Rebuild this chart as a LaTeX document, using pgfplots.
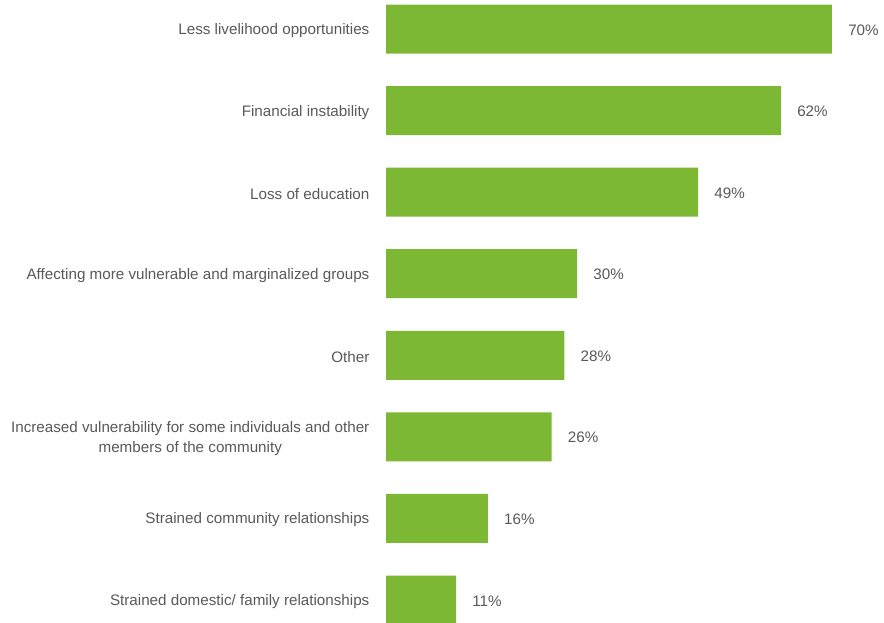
\documentclass[border=0pt]{standalone}
\usepackage{fontspec}
\setmainfont{Liberation Sans}
\usepackage{pgfplots}
\pgfplotsset{compat=1.18}
\definecolor{barg}{HTML}{7DB834}
\definecolor{txt}{HTML}{595959}
\begin{document}
\fontsize{11.4pt}{13.6pt}\selectfont
\begin{tikzpicture}
\useasboundingbox (0pt,0pt) rectangle (663pt,466.5pt);
\begin{axis}[
  at={(289.5pt,16.5pt)}, anchor=south west,
  scale only axis,
  width=334.5pt, height=428.25pt,
  xmin=0, xmax=70,
  ymin=0, ymax=7,
  y dir=reverse,
  clip=false,
  axis line style={draw=none},
  tick style={draw=none},
  xtick=\empty,
  ytick={0,1,2,3,4,5,6,7},
  yticklabels={Less livelihood opportunities,Financial instability,Loss of education,Affecting more vulnerable and marginalized groups,Other,{Increased vulnerability for some individuals and other\\members of the community},Strained community relationships,Strained domestic/ family relationships},
  yticklabel style={align=center, font=\fontsize{11.4pt}{15.6pt}\selectfont, text=txt, inner sep=0pt, anchor=east, xshift=-8pt, yshift=-1.2pt},
  xbar, bar width=36.75pt, bar shift=0pt,
  /pgf/number format/assume math mode=true,
  nodes near coords={\pgfmathprintnumber{\pgfplotspointmeta}\%},
  nodes near coords style={font=\fontsize{11.4pt}{13.6pt}\selectfont, text=txt, anchor=west, inner sep=0pt, xshift=12pt, yshift=-0.6pt},
  point meta=x,
]
\addplot[fill=barg, draw=none] coordinates {
(70,0) (62,1) (49,2) (30,3) (28,4) (26,5) (16,6) (11,7)};
\end{axis}
\end{tikzpicture}
\end{document}
